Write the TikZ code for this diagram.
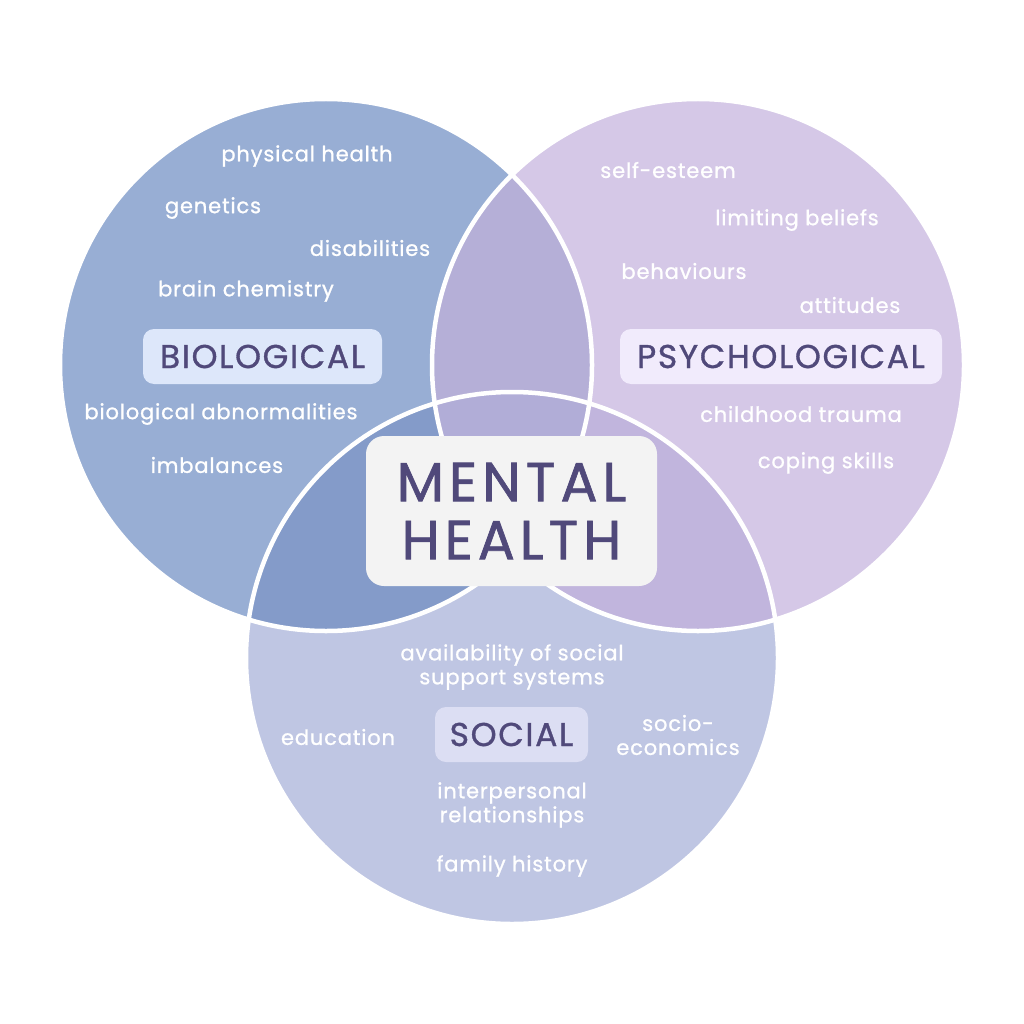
\documentclass[tikz,border=0pt]{standalone}
\usepackage{fontspec}
\setmainfont{Poppins}[Ligatures=NoCommon]
\newfontfamily\lblfont{Poppins}[FakeBold=1, LetterSpace=4, Ligatures=NoCommon]
\newfontfamily\catfont{Poppins}[FakeBold=1, LetterSpace=5, Ligatures=NoCommon]
\newfontfamily\mhfont{Poppins}[FakeBold=1.2, LetterSpace=9, Ligatures=NoCommon]
\begin{document}
\begin{tikzpicture}[x=1pt,y=-1pt,
  lbl/.style={text=white, font=\lblfont\fontsize{21}{24}\selectfont, align=center, inner sep=0pt},
  cat/.style={text=darktext, font=\catfont\fontsize{33}{36}\selectfont, rounded corners=11pt, inner sep=0pt},
  ring/.style={draw=white, line width=4.5pt}]
\definecolor{cL}{HTML}{98AED4}
\definecolor{cR}{HTML}{D5C8E7}
\definecolor{cB}{HTML}{BFC6E3}
\definecolor{cLR}{HTML}{B5AFD7}
\definecolor{cLB}{HTML}{849BC9}
\definecolor{cRB}{HTML}{C1B5DD}
\definecolor{cLRB}{HTML}{B1ADD7}
\definecolor{bioBox}{HTML}{DDE7FA}
\definecolor{psyBox}{HTML}{F1EBFC}
\definecolor{socBox}{HTML}{DCDEF3}
\definecolor{mhBox}{HTML}{F3F3F3}
\definecolor{darktext}{HTML}{50497A}
\useasboundingbox (0,0) rectangle (1024,1024);
\coordinate (cb) at (326,365);
\coordinate (cp) at (698,365);
\coordinate (cs) at (512,658);
\def\rr{266}
% base fills
\fill[cL] (cb) circle (\rr);
\fill[cR] (cp) circle (\rr);
\fill[cB] (cs) circle (\rr);
\begin{scope}
  \clip (cb) circle (\rr);
  \fill[cLR] (cp) circle (\rr);
  \fill[cLB] (cs) circle (\rr);
\end{scope}
\begin{scope}
  \clip (cp) circle (\rr);
  \fill[cRB] (cs) circle (\rr);
\end{scope}
\begin{scope}
  \clip (cb) circle (\rr);
  \clip (cp) circle (\rr);
  \fill[cLRB] (cs) circle (\rr);
\end{scope}
\draw[ring] (cb) circle (\rr);
\draw[ring] (cp) circle (\rr);
\draw[ring] (cs) circle (\rr);
% category boxes
\node[cat, fill=bioBox, minimum width=239pt, minimum height=55pt] (bio) at (262.5,356.5) {BIOLOGICAL};
\node[cat, fill=psyBox, minimum width=322pt, minimum height=55pt] (psy) at (781,356.5) {PSYCHOLOGICAL};
\node[cat, fill=socBox, minimum width=153pt, minimum height=55pt] (soc) at (511.5,734.5) {SOCIAL};
\node[fill=mhBox, rounded corners=18pt, minimum width=291pt, minimum height=150pt, inner sep=0pt,
      text=darktext, font=\mhfont\fontsize{55}{58}\selectfont, align=center] (mh) at (511.5,511) {MENTAL\\HEALTH};
% biological labels
\node[lbl] (b1) at (307,156) {physical health};
\node[lbl] (b2) at (213,208) {genetics};
\node[lbl] (b3) at (370,248) {disabilities};
\node[lbl] (b4) at (246,291) {brain chemistry};
\node[lbl] (b5) at (221,414) {biological abnormalities};
\node[lbl] (b6) at (217,465) {imbalances};
% psychological labels
\node[lbl] (p1) at (668,170) {self-esteem};
\node[lbl] (p2) at (797,220) {limiting beliefs};
\node[lbl] (p3) at (684,271) {behaviours};
\node[lbl] (p4) at (850,305) {attitudes};
\node[lbl] (p5) at (801,414) {childhood trauma};
\node[lbl] (p6) at (826,463) {coping skills};
% social labels
\node[lbl] (s1) at (512,667) {availability of social\\support systems};
\node[lbl] (s2) at (338,737) {education};
\node[lbl] (s3) at (678,735) {socio-\\economics};
\node[lbl] (s4) at (512,805) {interpersonal\\relationships};
\node[lbl] (s5) at (512,866) {family history};
\end{tikzpicture}
\end{document}
